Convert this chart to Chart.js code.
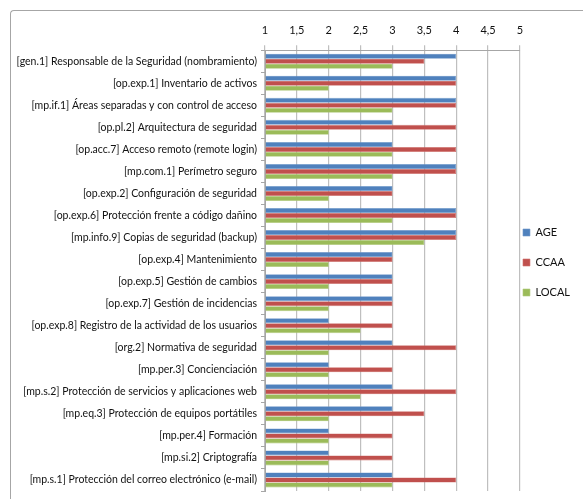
<!DOCTYPE html>
<html>
<head>
<meta charset="utf-8">
<script src="https://cdn.jsdelivr.net/npm/chart.js@4"></script>
<style>
html,body{margin:0;padding:0;background:#fff;overflow:hidden;}
#box{position:absolute;left:10px;top:10px;width:590px;height:510px;border-top:1px solid #a6a6a6;border-left:1px solid #a6a6a6;border-top-left-radius:4px;background:#fff;}
canvas{display:block;}
</style>
</head>
<body>
<div id="box"><canvas id="chart" width="572" height="498"></canvas></div>
<script>
// categories, top to bottom
let categories = [
"[gen.1] Responsable de la Seguridad (nombramiento)",
"[op.exp.1] Inventario de activos",
"[mp.if.1] Áreas separadas y con control de acceso",
"[op.pl.2] Arquitectura de seguridad",
"[op.acc.7] Acceso remoto (remote login)",
"[mp.com.1] Perímetro seguro",
"[op.exp.2] Configuración de seguridad",
"[op.exp.6] Protección frente a código dañino",
"[mp.info.9] Copias de seguridad (backup)",
"[op.exp.4] Mantenimiento",
"[op.exp.5] Gestión de cambios",
"[op.exp.7] Gestión de incidencias",
"[op.exp.8] Registro de la actividad de los usuarios",
"[org.2] Normativa de seguridad",
"[mp.per.3] Concienciación",
"[mp.s.2] Protección de servicios y aplicaciones web",
"[mp.eq.3] Protección de equipos portátiles",
"[mp.per.4] Formación",
"[mp.si.2] Criptografía",
"[mp.s.1] Protección del correo electrónico (e-mail)"
];

let ageValues   = [4,4,4,3,3,4,3,4,4,3,3,3,2,3,2,3,3,2,2,3];
let ccaaValues  = [3.5,4,4,4,4,4,3,4,4,3,3,3,3,4,3,4,3.5,3,3,4];
let localValues = [3,2,3,2,3,3,2,3,3.5,2,2,2,2.5,2,2,2.5,2,2,2,3];

let axisMin = 1;
let axisMax = 5;
let axisStep = 0.5;

let fontName = "Lato, 'Open Sans', sans-serif";

// nudge the legend closer to the plot, like the spreadsheet does
const legendShift = {
id:"legendShift",
afterLayout(chart){
let lg = chart.legend;
if(!lg) return;
lg.left -= 16; lg.right -= 16;
lg.top += 9; lg.bottom += 9;
}
};

new Chart(document.getElementById("chart").getContext("2d"),{
type:"bar",
data:{
labels:categories,
datasets:[
{label:"AGE",data:ageValues,backgroundColor:"#4f81bd",borderColor:"#6f97c9",borderWidth:0.6},
{label:"CCAA",data:ccaaValues,backgroundColor:"#c0504d",borderColor:"#cf706d",borderWidth:0.6},
{label:"LOCAL",data:localValues,backgroundColor:"#9bbb59",borderColor:"#b0c97c",borderWidth:0.6}
]
},
options:{
indexAxis:"y",
responsive:false,
animation:false,
base:axisMin,
categoryPercentage:0.68,
barPercentage:1.0,
layout:{padding:{top:5,left:0,right:-13,bottom:18}},
plugins:{
tooltip:{enabled:false},
legend:{
position:"right",
labels:{
boxWidth:7,
boxHeight:7,
padding:19,
color:"#111",
font:{family:fontName,size:11}
}
}
},
scales:{
x:{
position:"top",
min:axisMin,
max:axisMax,
ticks:{
stepSize:axisStep,
color:"#111",
padding:8,
font:{family:fontName,size:11},
callback:v=>String(v).replace(".",",")
},
grid:{color:"#bfbfbf",lineWidth:1.2,tickLength:5},
border:{color:"#a6a6a6"}
},
y:{
afterFit:s=>{s.width=254;},
ticks:{
color:"#111",
padding:4,
autoSkip:false,
font:{family:fontName,size:10.5}
},
grid:{drawOnChartArea:false,color:"#a6a6a6",tickLength:4,offset:true},
border:{color:"#a6a6a6"}
}
}
},
plugins:[legendShift]
});
</script>
</body>
</html>
